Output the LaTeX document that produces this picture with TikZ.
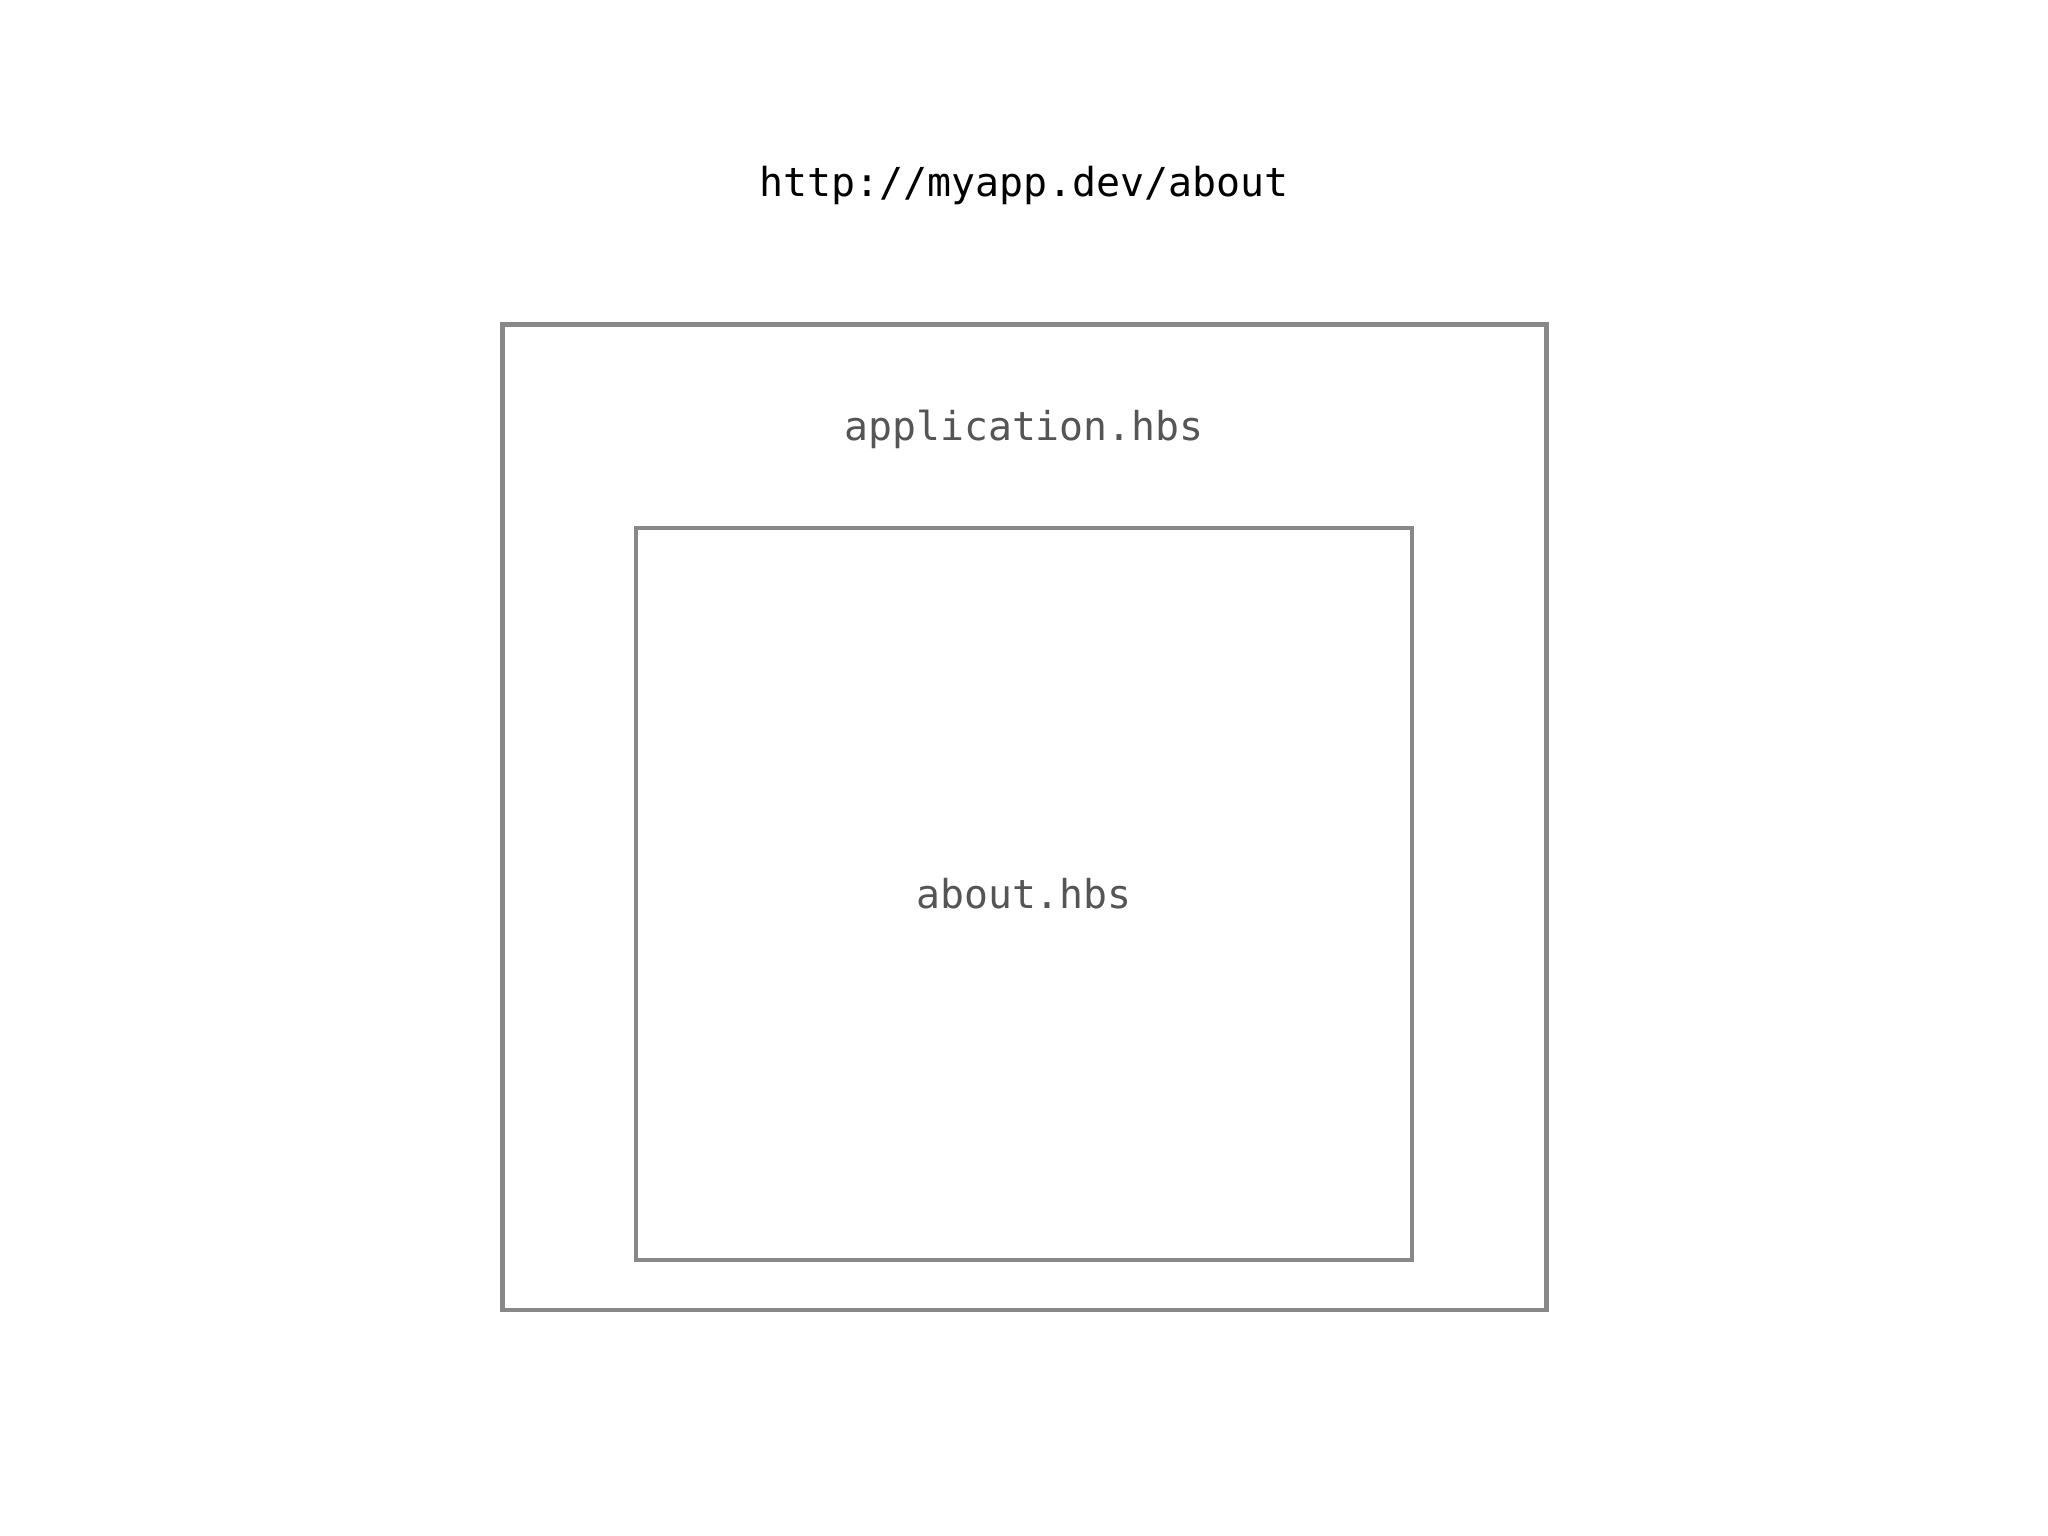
\documentclass[tikz,border=0pt]{standalone}
\usepackage{fontspec}
\setmonofont{DejaVu Sans Mono}
\definecolor{boxgray}{HTML}{888888}
\definecolor{labgray}{HTML}{555555}
\begin{document}
\begin{tikzpicture}[x=1pt,y=-1pt,
  frame/.style={draw=boxgray,line width=4.5pt},
  url/.style={font=\ttfamily\fontsize{39.9}{46}\selectfont,text=black,anchor=base,inner sep=0pt},
  tlabel/.style={font=\ttfamily\fontsize{39.8}{46}\selectfont,text=labgray,anchor=base,inner sep=0pt}]
\useasboundingbox (0,0) rectangle (2048,1536);
\draw[frame] (502.5,324.5) rectangle (1546.5,1310);
\draw[frame] (636,528) rectangle (1412,1260);
\node[url] (url) at (1024,196.5) {http://myapp.dev/about};
\node[tlabel] (app) at (1024,440) {application.hbs};
\node[tlabel] (about) at (1024,908) {about.hbs};
\end{tikzpicture}
\end{document}
